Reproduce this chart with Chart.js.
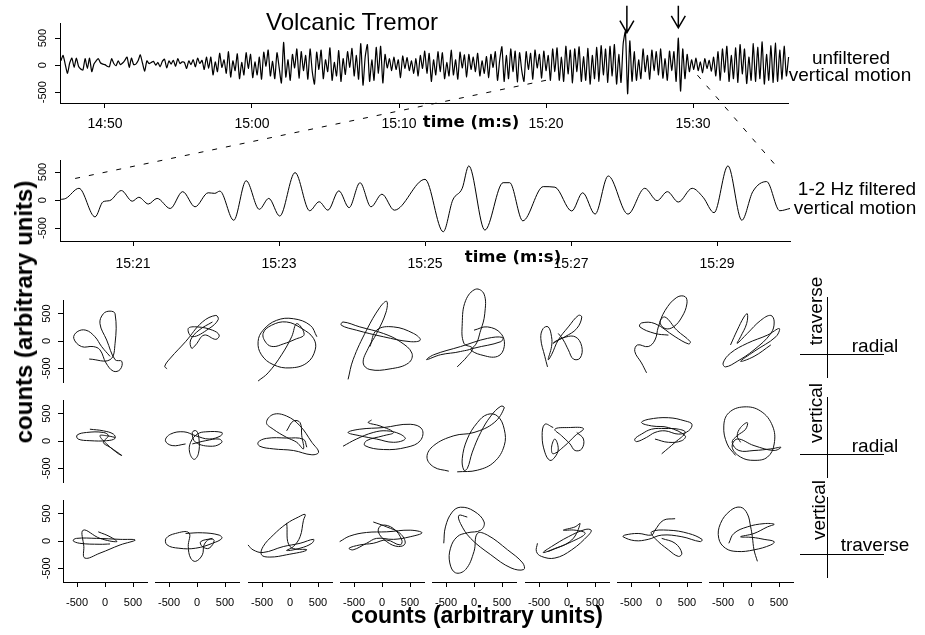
<!DOCTYPE html>
<html>
<head>
<meta charset="utf-8">
<script src="https://cdn.jsdelivr.net/npm/chart.js@4.4.1/dist/chart.umd.min.js"></script>
<style>
  body { margin: 0; background: #fff; }
  #fig { position: relative; width: 925px; height: 635px; overflow: hidden; font-family: "Liberation Sans", Arial, sans-serif; }
  #fig canvas { position: absolute; }
  .lbl { position: absolute; white-space: nowrap; line-height: 1; color: #000; }
</style>
</head>
<body>
<div id="fig"></div>
<script>
// Volcanic tremor: unfiltered + 1-2 Hz filtered vertical seismogram, then
// particle-motion hodograms for eight consecutive windows (3 component pairs).
// Times are in seconds, labelled m:ss (15:20 = 920 s).

const topTicks = [890, 900, 910, 920, 930];
const midTicks = [921, 923, 925, 927, 929];
const ampTicks = [-500, 0, 500];

// unfiltered vertical trace, sampled every topStep seconds from topStart
const topStart = 887.0;
const topStep = 0.15;
const unfiltered = [
  80, 180, 10, -150, 40, 130, -40, 130, -20, -70,
  -90, 120, -60, 130, -120, 20, 80, 120, 40, 20,
  10, -20, -30, 120, 30, -10, 80, 10, 40, 90,
  150, -40, 130, 10, 20, 80, 190, 40, -110, 80,
  30, 50, 70, 0, 50, -30, 70, 110, -50, 80,
  20, 90, -20, 120, 30, 60, 50, -60, 80, 10,
  100, -30, 130, 30, 90, -80, 150, -60,
  150, -180, 60, -120, 220, -40, 100, -150, 250, -220,
  80, -100, 210, -250, 50, -180, 230, -60,
  200, -230, 60, -180, 150, -260, 240, -20, 280, -200,
  70, -250, 230, -50, -330, 420, -220, 100, -280, 200,
  -50, 300, -240,
  250, -100, 180, -260, 300, -120, -350, 240, -80, 280,
  -250, 100, -120, 320, -280, 50, -200, 270, -300, 120,
  -170, 250, -40, 310, -200, 180, -260,
  400, -370, 150, 380, -300, 100, -280, 330, -150, 350, -330,
  200, -50, 120, -100, 150, -80, 100, -230, 170, -60,
  140, -100, 80, -150, 120, -200,
  180, -60, 260, -150, 220, -300, 100, -180, 250, -120,
  230, -250, 50, -200, 280, -180, 100, -260, 240, -50, 190, -220,
  200, -80, 150, -120, 220, -200, 80, -150, 160, -230, 200, -40,
  250, -280, 100, 340, -300, 180, -250, 300, -120, 260, -310, 230,
  -100, -300, 250, -80, 220, -260, 280, -50, 200, -240, 260, -100, 180, -280, 300, -120,
  320, -280, 150, -300, 350, -160, 280, -330, 300, -120,
  340, -300, 160, -280, 310, -350, 180, -250, 330, -300, 360, -180, 300, -320,
  350, -200, 380, -350, 200, -320, 400,
  620, -530, 450, -300,
  250, -280, 100, -250, 300, -120, 180, -260, 280, -100,
  250, -180, 300, -240, 120, -280, 260, -100, 250, -300,
  500, -480, 300, -250, 200,
  -120, 100, -80, 130, -100, 60, -140, 120, -60, 90, -110, 150,
  -200, 250, -280, 300, -130, 350, -300, 180, -250, 320,
  -320, 380, -160, 300, -340, 150, -280, 400, -300, 330,
  -250, 430, -350, 200, -280, 360, -320, 410, -300, 280,
  -260, 350, -200, 150,
];

// 1-2 Hz filtered trace, turning points
const filtTime = [
  920.00, 920.08, 920.26, 920.48, 920.59, 920.68, 920.84, 920.99, 921.08, 921.21,
  921.33, 921.51, 921.68, 921.85, 922.03, 922.12, 922.19, 922.38, 922.55, 922.73,
  922.86, 923.01, 923.22, 923.42, 923.55, 923.67, 923.82, 923.96, 924.11, 924.26,
  924.41, 924.58, 925.00, 925.25, 925.38, 925.51, 925.60, 925.82, 926.07, 926.16,
  926.34, 926.62, 926.78, 927.01, 927.16, 927.33, 927.51, 927.78, 928.01, 928.18,
  928.32, 928.47, 928.66, 928.81, 928.96, 929.15, 929.34, 929.49, 929.68, 929.86,
  930.00,
];
const filtered = [
  10, 30, 210, -300, -30, -10, 170, -20, 50, -70,
  30, -150, 150, -120, 130, 120, 160, -360, 345, -165,
  30, -285, 490, -190, -30, -180, 165, -135, 310, -120,
  105, -180, 370, -565, 0, 210, 610, -535, 310, 310,
  -370, 240, 230, -195, 130, -250, 430, -250, 210, -10,
  150, -35, 210, 50, -225, 610, -360, 150, 330, -190,
  -150,
];

const arrowTimes = [925.5, 929.0];
const arrowTips = [600, 690];
const zoomFrom = [[920.0, -280], [930.3, -185]];
const zoomTo = [[920.15, 370], [929.8, 625]];

// particle motion, one [x, y] path per window (counts)
const traverseRadial = [
  [[-282,-330],[90,-342],[180,-42],[180,498],[90,546],[-30,498],[-90,318],[30,18],[180,-342],[300,-372],[270,-522],[150,-552],[18,-402],[-90,-162],[-210,-102],[-420,-102],[-558,48],[-498,168],[-342,198],[-180,78],[-60,-102],[90,-282]],
  [[-534,-510],[-576,-462],[-474,-312],[-204,-12],[96,348],[336,468],[378,390],[216,228],[-84,78],[-156,228],[6,258],[276,198],[396,108],[336,30],[126,108],[-24,-72],[-96,-132],[-114,18],[36,198],[276,348]],
  [[-570,-732],[-390,-582],[-150,-252],[30,78],[120,318],[252,120],[90,30],[-120,-54],[-300,-102],[-420,-42],[-480,138],[-330,288],[-60,348],[210,228],[420,48],[450,-162],[300,-402],[0,-492],[-300,-432],[-510,-252],[-570,-12],[-480,198],[-240,378],[60,408],[360,288],[480,78]],
  [[-606,-702],[-516,-342],[-276,198],[-36,618],[84,726],[72,528],[-96,138],[-246,-132],[-336,-402],[-216,-522],[144,-510],[474,-402],[534,-222],[324,-12],[24,138],[-396,258],[-696,348],[-726,288],[-456,198],[24,78],[504,-12],[684,18],[564,138],[204,258],[-96,198],[-216,-102]],
  [[-300,-474],[-120,-282],[-30,-132],[-180,-42],[-210,318],[-150,738],[30,948],[180,858],[192,498],[120,198],[0,-102],[-240,-192],[-600,-252],[-846,-342],[-720,-252],[-240,-102],[240,48],[510,66],[480,-12],[0,-132],[-60,-162],[120,-252],[420,-282],[540,-102],[480,138],[240,258],[0,198]],
  [[-348,-474],[-396,-282],[-468,48],[-426,228],[-336,258],[-276,78],[-276,-102],[-336,-342],[-276,-252],[-156,18],[24,258],[204,468],[264,438],[174,228],[-36,78],[-216,-12],[-246,-42],[-96,48],[144,78],[264,-102],[234,-312],[114,-330],[24,-162],[-66,18],[-156,138]],
  [[-222,-582],[-312,-402],[-432,-192],[-384,-72],[-192,-102],[-72,18],[-12,258],[108,558],[318,798],[468,810],[498,678],[408,438],[258,258],[108,228],[18,348],[108,438],[318,198],[558,-12],[528,-54],[288,78],[-72,318],[-312,330],[-342,258],[-72,138],[168,108]],
  [[-366,-72],[-246,198],[-126,438],[-66,498],[-78,318],[-186,78],[-246,-42],[-66,138],[174,378],[354,468],[414,348],[354,138],[54,-162],[-246,-372],[-456,-474],[-498,-402],[-366,-222],[-66,-42],[294,108],[504,228],[444,78],[54,-192],[-186,-372],[54,-282],[354,-72]],
];
const verticalRadial = [
  [[-270,216],[-30,186],[150,126],[180,48],[30,6],[-270,6],[-480,36],[-498,108],[-330,156],[-30,156],[60,96],[-30,-24],[90,-114],[300,-264],[240,-234],[30,-54],[-90,96],[30,96],[180,66]],
  [[-204,-54],[-444,-84],[-564,6],[-474,126],[-234,168],[-24,96],[216,36],[426,96],[444,156],[156,168],[6,126],[-114,-24],[-132,-204],[-54,-336],[24,-234],[36,36],[-12,186],[-84,156],[-24,-24],[276,-96],[444,-24],[396,36],[156,6],[-84,-54]],
  [[-60,186],[60,366],[180,336],[210,96],[240,-144],[120,-24],[-60,66],[-300,216],[-420,336],[-300,486],[-60,456],[180,276],[390,-24],[510,-204],[390,-252],[60,-174],[-300,-144],[-540,-96],[-570,-24],[-420,48],[-60,54],[240,30],[300,-114]],
  [[-696,-96],[-456,36],[-156,156],[84,186],[324,126],[414,36],[204,-24],[-96,36],[-396,96],[-606,156],[-396,216],[24,246],[504,306],[714,216],[684,6],[444,-114],[24,-156],[-306,-84],[-276,6],[24,96],[204,156],[-36,276],[-246,336],[-186,384]],
  [[-450,-552],[-720,-474],[-840,-294],[-720,-84],[-360,96],[0,156],[360,336],[540,606],[480,636],[300,456],[120,156],[-30,-204],[-120,-504],[-180,-534],[-210,-324],[-120,36],[60,336],[240,486],[420,456],[540,216],[540,-84],[360,-384],[60,-534],[-300,-564]],
  [[-246,246],[-396,306],[-444,96],[-396,-204],[-306,-354],[-216,-294],[-156,-144],[-216,36],[-276,-114],[-246,-234],[-36,-84],[144,96],[294,228],[24,246],[-216,216],[-96,96],[54,-54],[144,-174],[264,-144],[294,36],[174,156]],
  [[48,-234],[288,-24],[468,156],[348,216],[108,228],[-132,216],[-312,126],[-432,36],[-402,-12],[-222,66],[-72,156],[108,186],[348,126],[528,186],[588,306],[468,366],[168,426],[-192,396],[-312,336],[-132,276],[168,246],[468,96],[408,6],[168,-24],[-72,36]],
  [[-186,-24],[-246,96],[-186,246],[-66,336],[-96,216],[-246,96],[-336,-24],[-216,-174],[54,-174],[354,-144],[534,-114],[414,-174],[54,-84],[-246,36],[-336,-114],[-186,-294],[54,-354],[294,-294],[414,-54],[384,276],[174,546],[-126,624],[-396,516],[-486,276],[-426,-54],[-276,-264]],
];
const verticalTraverse = [
  [[-120,168],[90,78],[210,-12],[-90,48],[-390,198],[-378,-102],[-360,-312],[-90,-222],[270,-72],[540,18],[270,30],[-150,48],[-510,48],[-570,6],[-450,-42],[-90,-60],[90,-54]],
  [[-204,138],[96,150],[396,108],[444,48],[276,-42],[-24,-132],[-324,-132],[-534,-72],[-552,48],[-384,138],[-144,150],[-156,-102],[-114,-312],[-24,-372],[96,-252],[126,-72],[216,30],[306,12],[216,-132],[96,-102],[66,-12],[276,48]],
  [[-750,-72],[-660,-162],[-480,-210],[-120,-102],[180,-42],[420,30],[390,-42],[180,-132],[-60,-174],[60,-102],[180,78],[240,378],[270,486],[150,438],[-60,318],[-300,108],[-480,-102],[-510,-252],[-360,-294],[-60,-252],[300,-162],[0,-102],[-60,330]],
  [[-756,-12],[-576,90],[-276,156],[84,168],[504,198],[714,150],[504,78],[204,30],[-96,48],[-276,-42],[-516,-162],[-588,-132],[-396,-72],[-156,-42],[84,18],[324,-72],[354,18],[204,228],[-6,288],[-66,168],[84,-12],[294,-102],[414,-42],[324,138],[84,258],[-156,348]],
  [[-540,-42],[-510,258],[-390,528],[-240,618],[0,546],[180,348],[120,198],[-120,150],[-300,78],[-420,-132],[-432,-402],[-330,-582],[-150,-522],[0,-192],[60,138],[240,108],[600,-162],[870,-402],[888,-522],[660,-492],[300,-252],[-60,48],[-240,318],[-270,468],[-120,438]],
  [[-528,-42],[-546,-192],[-456,-282],[-216,-312],[84,-162],[384,108],[432,198],[324,210],[24,78],[-276,-102],[-426,-210],[-276,-162],[84,18],[234,318],[144,258],[-66,198],[144,198],[324,138],[84,-12],[-336,-192]],
  [[288,408],[78,378],[-72,198],[-132,108],[-372,138],[-612,108],[-642,78],[-432,6],[-192,30],[48,108],[408,78],[738,-12],[768,30],[528,138],[168,198],[-132,168],[-72,48],[168,-162],[348,-282],[408,-222],[288,-42],[48,48]],
  [[114,-372],[54,-162],[24,78],[-6,258],[-66,498],[-186,618],[-366,558],[-546,318],[-576,48],[-456,-132],[-246,-192],[54,-162],[354,-72],[414,-12],[234,30],[24,66],[-186,78],[54,138],[294,258],[414,306],[234,318],[-66,258],[-306,138],[-396,-42]],
];
const pmRows = [traverseRadial, verticalRadial, verticalTraverse];
const pmNames = [["traverse", "radial"], ["vertical", "radial"], ["vertical", "traverse"]];

const fig = document.getElementById("fig");
const FAMILY = '"Liberation Sans", Arial, sans-serif';
const mmss = (v) => Math.floor(v / 60) + ":" + String(Math.round(v % 60)).padStart(2, "0");

// R-style vertical tick labels on the y axis (Chart.js won't rotate y labels)
const rotYLabels = {
  id: "rotYLabels",
  afterDraw(chart, _args, opts) {
    const y = chart.scales.y;
    if (!y || !y.options.display) return;
    const ctx = chart.ctx;
    ctx.save();
    ctx.font = `11px ${FAMILY}`;
    ctx.fillStyle = "#000";
    ctx.textAlign = "center";
    ctx.textBaseline = "middle";
    y.ticks.forEach((t) => {
      ctx.save();
      ctx.translate(y.right - opts.offset, y.getPixelForValue(t.value));
      ctx.rotate(-Math.PI / 2);
      ctx.fillText(String(t.value), 0, 0);
      ctx.restore();
    });
    ctx.restore();
  },
};

function axis(min, max, ticks, size, pad, fmt) {
  return {
    type: "linear",
    min,
    max,
    afterBuildTicks: (s) => { s.ticks = ticks.map((v) => ({ value: v })); },
    grid: { drawOnChartArea: false, drawTicks: true, tickLength: 5, color: "#000", lineWidth: 1 },
    border: { display: true, color: "#000", width: 1 },
    ticks: {
      color: "#000",
      font: { family: FAMILY, size },
      padding: pad,
      maxRotation: 0,
      minRotation: 0,
      autoSkip: false,
      callback: fmt || ((v) => String(v)),
    },
  };
}

const trace = (data, extra) => Object.assign(
  { data, showLine: true, pointRadius: 0, borderColor: "#000", borderWidth: 1, clip: false }, extra);

// box = plot area in page pixels, m = room around it inside the canvas
function makeChart(box, m, xs, ys, datasets, yLabelOffset) {
  const cv = document.createElement("canvas");
  cv.width = box.w + m.l + m.r;
  cv.height = box.h + m.t + m.b;
  cv.style.left = box.x - m.l + "px";
  cv.style.top = box.y - m.t + "px";
  fig.appendChild(cv);
  const showX = xs.display !== false;
  const showY = ys.display !== false;
  // hidden scales still run afterFit, so only size the visible ones
  if (showX) xs.afterFit = (s) => { s.height = m.b; };
  if (showY) ys.afterFit = (s) => { s.width = m.l; };
  ys.ticks.display = false;
  const chart = new Chart(cv, {
    type: "scatter",
    data: { datasets },
    options: {
      responsive: false,
      animation: false,
      events: [],
      layout: { padding: { left: showY ? 0 : m.l, right: m.r, top: m.t, bottom: showX ? 0 : m.b } },
      plugins: { legend: { display: false }, tooltip: { enabled: false }, rotYLabels: { offset: yLabelOffset } },
      scales: { x: xs, y: ys },
    },
    plugins: [rotYLabels],
  });
  chart.$left = box.x - m.l;
  chart.$top = box.y - m.t;
  return chart;
}

// --- seismograms ---
const topChart = makeChart(
  { x: 60, y: 23, w: 728, h: 80 }, { l: 60, t: 23, r: 12, b: 37 },
  axis(886.94, 936.46, topTicks, 14, 8, mmss),
  axis(-700, 780, ampTicks, 11, 3),
  [trace(unfiltered.map((v, i) => ({ x: topStart + i * topStep, y: v })), { tension: 0.2, borderWidth: 1.2 })],
  17,
);
const midChart = makeChart(
  { x: 60, y: 160, w: 730, h: 81 }, { l: 60, t: 20, r: 10, b: 39 },
  axis(920, 930, midTicks, 14, 10, mmss),
  axis(-730, 715, ampTicks, 11, 3),
  [trace(filtered.map((v, i) => ({ x: filtTime[i], y: v })), { cubicInterpolationMode: "monotone" })],
  17,
);

// --- particle motion grid ---
const pmLeft = 63, pmStep = 92.3, pmW = 84, pmH = 82, pmTops = [300, 400, 500];
pmRows.forEach((row, r) => {
  row.forEach((path, c) => {
    const xs = axis(-750, 750, ampTicks, 11, 9);
    const ys = axis(-750, 750, ampTicks, 11, 3);
    xs.display = r === 2;
    ys.display = c === 0;
    makeChart(
      { x: Math.round(pmLeft + c * pmStep), y: pmTops[r], w: pmW, h: pmH },
      { l: c === 0 ? 60 : 18, t: 22, r: 22, b: r === 2 ? 40 : 18 },
      xs, ys,
      [trace(path.map(([x, y]) => ({ x, y })), { tension: 0.4, borderColor: "#111" })],
      16,
    );
  });
});

// --- overlay: zoom connectors, arrows, component keys ---
const ov = document.createElement("canvas");
ov.width = 925;
ov.height = 635;
ov.style.left = "0px";
ov.style.top = "0px";
fig.appendChild(ov);
const g = ov.getContext("2d");
const at = (ch, x, y) => [ch.$left + ch.scales.x.getPixelForValue(x), ch.$top + ch.scales.y.getPixelForValue(y)];

g.strokeStyle = "#000";
g.lineWidth = 1;
g.setLineDash([5, 9]);
zoomFrom.forEach((p, i) => {
  const a = at(topChart, p[0], p[1]);
  const b = at(midChart, zoomTo[i][0], zoomTo[i][1]);
  g.beginPath();
  g.moveTo(a[0], a[1]);
  g.lineTo(b[0], b[1]);
  g.stroke();
});
g.setLineDash([]);

g.lineWidth = 1.5;
arrowTimes.forEach((t, i) => {
  const tip = at(topChart, t, arrowTips[i]);
  const tail = at(topChart, t, 1100);
  g.beginPath();
  g.moveTo(tip[0], tail[1]);
  g.lineTo(tip[0], tip[1]);
  g.moveTo(tip[0] - 7, tip[1] - 12);
  g.lineTo(tip[0], tip[1]);
  g.lineTo(tip[0] + 7, tip[1] - 12);
  g.stroke();
});

g.lineWidth = 1;
pmTops.forEach((top) => {
  g.beginPath();
  g.moveTo(827.5, top - 3);
  g.lineTo(827.5, top + pmH - 4);
  g.moveTo(800, top + 54.5);
  g.lineTo(884, top + 54.5);
  g.stroke();
});

// --- text ---
function text(str, cx, base, size, o = {}) {
  const d = document.createElement("div");
  d.className = "lbl";
  d.textContent = str;
  d.style.fontSize = size + "px";
  if (o.bold) d.style.fontWeight = "bold";
  if (o.family) d.style.fontFamily = o.family;
  const shift = 0.3465 * size; // box centre sits this far above the baseline
  if (o.rot) {
    d.style.left = base - shift + "px";
    d.style.top = cx + "px";
    d.style.transform = "translate(-50%,-50%) rotate(-90deg)";
  } else {
    d.style.left = cx + "px";
    d.style.top = base - shift + "px";
    d.style.transform = "translate(-50%,-50%)";
  }
  fig.appendChild(d);
}

text("Volcanic Tremor", 352, 30, 24);
text("unfiltered", 851, 64, 19);
text("vertical motion", 850, 81, 19);
text("1-2 Hz filtered", 857, 195, 19);
text("vertical motion", 855, 214, 19);
const DV = '"DejaVu Sans", sans-serif';
text("time (m:s)", 471, 128, 16.5, { bold: true, family: DV });
text("time (m:s)", 513, 263, 16.5, { bold: true, family: DV });
text("counts (arbitrary units)", 312, 32, 24, { bold: true, rot: true });
text("counts (arbitrary units)", 477, 623, 23, { bold: true });
const keyMid = [311, 413, 510];
pmNames.forEach(([up, across], r) => {
  text(up, keyMid[r], r === 2 ? 825 : 822, 19, { rot: true });
  text(across, 875, pmTops[r] + (r === 2 ? 51 : 52), 19);
});
</script>
</body>
</html>
